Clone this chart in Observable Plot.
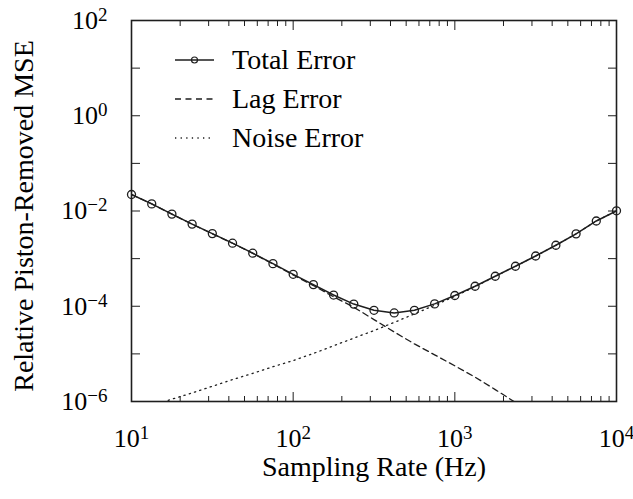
<!DOCTYPE html>
<html>
<head>
<meta charset="utf-8">
<script src="https://cdn.jsdelivr.net/npm/d3@7"></script>
<script src="https://cdn.jsdelivr.net/npm/@observablehq/plot@0.6"></script>
<style>
  html, body { margin: 0; padding: 0; background: #fff; }
  #chart { width: 633px; height: 499px; }
</style>
</head>
<body>
<div id="chart"></div>
<script>
// Sampling rates (Hz)
const rate = [10, 13.34, 17.78, 23.71, 31.62, 42.17, 56.23, 74.99, 100, 133.4, 177.8, 237.1, 316.2,
  421.7, 562.3, 749.9, 1000, 1334, 1778, 2371, 3162, 4217, 5623, 7499, 10000];
// Relative piston-removed MSE
const totalError = [2.22e-2, 1.41e-2, 8.61e-3, 5.31e-3, 3.35e-3, 2.11e-3, 1.30e-3, 7.85e-4, 4.68e-4,
  2.85e-4, 1.72e-4, 1.11e-4, 8.22e-5, 7.24e-5, 8.22e-5, 1.12e-4, 1.68e-4, 2.63e-4, 4.27e-4,
  6.92e-4, 1.135e-3, 1.91e-3, 3.31e-3, 6.17e-3, 1.01e-2];
const lagError = [2.22e-2, 1.41e-2, 8.59e-3, 5.30e-3, 3.33e-3, 2.10e-3, 1.29e-3, 7.71e-4, 4.54e-4,
  2.72e-4, 1.58e-4, 9.55e-5, 5.25e-5, 2.88e-5, 1.62e-5, 9.55e-6, 5.62e-6, 3.24e-6, 1.78e-6,
  9.55e-7, 5.25e-7, 2.88e-7, 1.58e-7, 8.71e-8, 4.79e-8];
const noiseError = [6.03e-7, 8.13e-7, 1.12e-6, 1.51e-6, 2.09e-6, 2.88e-6, 3.89e-6, 5.37e-6, 7.24e-6,
  1.02e-5, 1.48e-5, 2.14e-5, 3.09e-5, 4.57e-5, 6.92e-5, 1.05e-4, 1.62e-4, 2.57e-4, 4.25e-4,
  6.91e-4, 1.134e-3, 1.91e-3, 3.31e-3, 6.17e-3, 1.01e-2];

const seriesNames = ["Total Error", "Lag Error", "Noise Error"];
const xMajorTicks = [10, 100, 1000, 10000];
const xMinorTicks = [20,30,40,50,60,70,80,90,200,300,400,500,600,700,800,900,2000,3000,4000,5000,6000,7000,8000,9000];
const yTicks = [1e-6, 1e-5, 1e-4, 1e-3, 1e-2, 1e-1, 1, 10, 100];
const yLabelTicks = [1e-6, 1e-4, 1e-2, 1, 100];
const xTitle = "Sampling Rate (Hz)";
const yTitle = "Relative Piston-Removed MSE";

const toRows = (vals) => rate.map((r, i) => ({rate: r, mse: vals[i]}));
const totalRows = toRows(totalError);
const lagRows = toRows(lagError);
const noiseRows = toRows(noiseError);

const ink = "#1e1e1e";
const FONT = "'Liberation Serif', 'Times New Roman', serif";
const FS = 28;      // titles and legend
const TFS = 26;     // tick labels
const expFmt = d => "10^" + Math.round(Math.log10(d));
const blank = () => "";

const plot = Plot.plot({
  width: 633,
  height: 499,
  marginLeft: 131,
  marginRight: 17,
  marginTop: 20,
  marginBottom: 98,
  x: {type: "log", domain: [10, 1e4]},
  y: {type: "log", domain: [1e-6, 1e2]},
  style: {fontFamily: FONT, fontSize: TFS + "px", color: ink, background: "#fff", overflow: "visible"},
  marks: [
    Plot.line(lagRows, {x: "rate", y: "mse", stroke: ink, strokeWidth: 1.3, strokeDasharray: "6,4", clip: true}),
    Plot.line(noiseRows, {x: "rate", y: "mse", stroke: ink, strokeWidth: 1.3, strokeDasharray: "1.3,4.2", clip: true}),
    Plot.line(totalRows, {x: "rate", y: "mse", stroke: ink, strokeWidth: 1.5, clip: true}),
    Plot.dot(totalRows, {x: "rate", y: "mse", r: 4, stroke: ink, strokeWidth: 1.3, fill: "none"}),
    // inward ticks
    Plot.axisX(xMinorTicks, {anchor: "bottom", tickSize: -5, tickFormat: blank, label: null, stroke: ink}),
    Plot.axisX(xMinorTicks, {anchor: "top", tickSize: -5, tickFormat: blank, label: null, stroke: ink}),
    Plot.axisX(xMajorTicks, {anchor: "bottom", tickSize: -9, tickFormat: blank, label: null, stroke: ink}),
    Plot.axisX(xMajorTicks, {anchor: "top", tickSize: -9, tickFormat: blank, label: null, stroke: ink}),
    Plot.axisY(yTicks, {anchor: "left", tickSize: -9, tickFormat: blank, label: null, stroke: ink}),
    Plot.axisY(yTicks, {anchor: "right", tickSize: -9, tickFormat: blank, label: null, stroke: ink}),
    // tick labels
    Plot.axisX(xMajorTicks, {anchor: "bottom", tickSize: 0, tickPadding: 27, tickFormat: expFmt, label: null, fill: "#000"}),
    Plot.axisY(yLabelTicks, {anchor: "left", tickSize: 0, tickPadding: 24, tickFormat: expFmt, label: null, fill: "#000"}),
    Plot.frame({stroke: ink, strokeWidth: 1.6}),
    // axis titles
    Plot.text([xTitle], {frameAnchor: "bottom", dy: 66, fontSize: FS, fill: "#000", lineAnchor: "middle", textAnchor: "middle"}),
    Plot.text([yTitle], {frameAnchor: "left", dx: -107, dy: 5, rotate: -90, fontSize: FS, fill: "#000", lineAnchor: "middle", textAnchor: "middle"})
  ]
});

// superscript exponents in tick labels
const NS = "http://www.w3.org/2000/svg";
plot.querySelectorAll('g[aria-label="x-axis tick label"] text, g[aria-label="y-axis tick label"] text').forEach(t => {
  const m = t.textContent.match(/^10\^(-?\d+)$/);
  if (!m) return;
  t.textContent = "10";
  const sup = document.createElementNS(NS, "tspan");
  sup.setAttribute("dy", "-8");
  sup.setAttribute("font-size", "19px");
  sup.textContent = m[1].replace("-", "\u2212");
  t.appendChild(sup);
});

// legend
const svg = d3.select(plot);
const lg = svg.append("g").attr("aria-label", "legend").attr("text-anchor", "start");
const rowsY = [60, 99, 138];
const dashes = [null, "6,4.5", "1.3,4.3"];
seriesNames.forEach((name, i) => {
  const y = rowsY[i];
  lg.append("line").attr("x1", 175).attr("x2", 214).attr("y1", y).attr("y2", y)
    .attr("stroke", ink).attr("stroke-width", 1.3).attr("stroke-dasharray", dashes[i]);
  if (i === 0) lg.append("circle").attr("cx", 194.5).attr("cy", y).attr("r", 3)
    .attr("fill", "none").attr("stroke", ink).attr("stroke-width", 1.2);
  lg.append("text").attr("x", 232).attr("y", y).attr("dy", "0.33em")
    .attr("font-family", FONT).attr("font-size", FS).attr("fill", "#000").text(name);
});

document.getElementById("chart").appendChild(plot);
</script>
</body>
</html>
